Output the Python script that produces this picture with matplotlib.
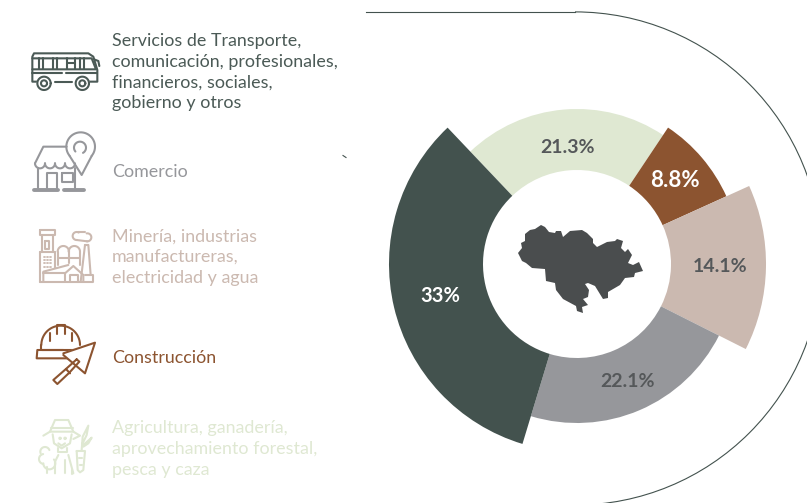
import numpy as np
import matplotlib
matplotlib.use('Agg')
import matplotlib.pyplot as plt
from matplotlib.patches import Wedge, Arc, Polygon

# chart data, clockwise from the top left of the ring
shares = [21.3, 8.8, 14.1, 22.1, 33]
share_labels = ['21.3%', '8.8%', '14.1%', '22.1%', '33%']
ring_colors = ['#dfe8d2', '#8c5430', '#cbb9b0', '#96979b', '#43524e']
label_colors = ['#55585a', '#ffffff', '#55585a', '#55585a', '#ffffff']
label_sizes = [14, 16, 14, 14, 14.5]
outer_radius = [155, 164, 189, 159, 188]
label_radius = [117, 129, 143, 128, 140]

categories = ['Servicios de Transporte,\ncomunicación, profesionales,\nfinancieros, sociales,\ngobierno y otros',
              'Comercio',
              'Minería, industrias\nmanufactureras,\nelectricidad y agua',
              'Construcción',
              'Agricultura, ganadería,\naprovechamiento forestal,\npesca y caza']
category_colors = ['#4b5a56', '#96979b', '#cbb9b0', '#8c5430', '#dfe8d2']
category_y = [72, 172, 257, 358, 449]

center = (577, 264)
hole = 94
start_angle = 133.5

# outline of the department, in pixels
region = [(518, 253), (522, 248), (521, 243), (525, 241), (525, 234), (530, 230), (535, 229),
          (541, 225), (545, 227), (549, 232), (555, 233), (556, 231), (561, 231), (563, 237),
          (570, 231), (582, 230), (587, 233), (593, 239), (593, 243), (597, 247), (607, 242),
          (615, 241), (617, 239), (623, 241), (621, 248), (625, 252), (628, 249), (632, 255),
          (628, 263), (633, 265), (639, 262), (643, 271), (635, 273), (634, 277), (625, 278),
          (620, 285), (608, 292), (608, 298), (603, 299), (595, 286), (588, 283), (585, 284),
          (589, 290), (588, 297), (583, 299), (588, 305), (582, 307), (583, 313), (577, 311),
          (576, 306), (563, 299), (556, 290), (555, 283), (546, 281), (545, 269), (532, 268),
          (526, 263), (522, 261)]


def stroke(ax, pts, ox, oy, color, lw=1.5):
    pts = np.array(pts, dtype=float)
    ax.plot(ox + pts[:, 0] / 3, oy + pts[:, 1] / 3, color=color, lw=lw,
            solid_capstyle='round', solid_joinstyle='round', zorder=3)


def ring(ax, x, y, r, ox, oy, color, lw=1.5, t1=0, t2=360, fill=False):
    t = np.radians(np.linspace(t1, t2, 40))
    px = ox + (x + r * np.cos(t)) / 3
    py = oy + (y - r * np.sin(t)) / 3
    if fill:
        ax.fill(px, py, color='white', zorder=3)
    ax.plot(px, py, color=color, lw=lw, solid_capstyle='round', zorder=3)


def draw_bus(ax, color):
    ox, oy = 20, 40
    for p in [[(50, 125), (37, 125), (37, 50), (42, 40), (205, 40), (220, 50), (232, 90), (232, 125), (205, 125)],
              [(105, 125), (155, 125)],
              [(37, 55), (215, 55), (228, 88), (37, 88)],
              [(37, 100), (125, 100)], [(137, 100), (232, 100)],
              [(57, 55), (57, 88)], [(70, 55), (70, 88)], [(100, 55), (100, 88)], [(112, 55), (112, 88)],
              [(140, 55), (140, 88)], [(165, 55), (165, 88)], [(180, 55), (180, 88)], [(192, 55), (192, 88)],
              [(140, 70), (165, 70)],
              [(222, 58), (235, 63), (238, 78)]]:
        stroke(ax, p, ox, oy, color)
    for cx in [72, 187]:
        ring(ax, cx, 130, 20, ox, oy, color, fill=True)
        ring(ax, cx, 130, 9, ox, oy, color)


def draw_shop(ax, color):
    ox, oy = 25, 125
    ring(ax, 167, 65, 43, ox, oy, color, t1=-40, t2=220)
    stroke(ax, [(134, 93), (170, 150), (200, 93)], ox, oy, color)
    ring(ax, 165, 68, 18, ox, oy, color, t1=-60, t2=220)
    for p in [[(125, 65), (55, 65), (30, 115)],
              [(40, 130), (40, 190)], [(150, 130), (150, 190)],
              [(65, 190), (65, 145), (95, 145), (95, 190)],
              [(110, 145), (145, 145), (145, 170), (110, 170), (110, 145)]]:
        stroke(ax, p, ox, oy, color)
    for cx in [45, 75, 105, 135]:
        ring(ax, cx, 115, 15, ox, oy, color, t1=180, t2=360)
    stroke(ax, [(28, 195), (100, 195)], ox, oy, color, lw=2.8)
    stroke(ax, [(118, 195), (178, 195)], ox, oy, color, lw=2.8)


def draw_factory(ax, color):
    ox, oy = 30, 220
    for p in [[(30, 30), (75, 30), (75, 45), (30, 45), (30, 30)],
              [(35, 45), (35, 95)], [(70, 45), (70, 95)],
              [(45, 62), (58, 62), (58, 88), (45, 88), (45, 62)],
              [(30, 97), (75, 97)], [(30, 97), (30, 185)], [(75, 97), (75, 145)],
              [(83, 135), (83, 95)], [(150, 135), (150, 95)], [(116, 90), (116, 130)],
              [(83, 115), (150, 115)],
              [(165, 75), (152, 185)], [(175, 75), (182, 165)], [(165, 75), (175, 75)],
              [(40, 185), (40, 155), (115, 135)],
              [(105, 185), (105, 160), (130, 138), (160, 165), (160, 185)],
              [(40, 158), (105, 158)],
              [(120, 185), (120, 165), (145, 165), (145, 185)],
              [(30, 185), (190, 185), (190, 165), (165, 165)]]:
        stroke(ax, p, ox, oy, color)
    ring(ax, 100, 95, 17, ox, oy, color, t1=0, t2=180)
    ring(ax, 133, 95, 17, ox, oy, color, t1=0, t2=180)
    ring(ax, 140, 48, 12, ox, oy, color, t1=60, t2=270)
    ring(ax, 172, 52, 12, ox, oy, color, t1=-100, t2=100)
    stroke(ax, [(140, 60), (172, 64)], ox, oy, color)
    stroke(ax, [(145, 36), (165, 36)], ox, oy, color)
    for x in [41, 50, 59]:
        for y in [110, 120, 130, 140]:
            stroke(ax, [(x, y), (x + 3, y)], ox, oy, color, lw=1.3)


def draw_tools(ax, color):
    ox, oy = 30, 320
    ring(ax, 92, 75, 58, ox, oy, color, t1=0, t2=180)
    for p in [[(34, 75), (34, 90)],
              [(80, 42), (80, 16), (105, 16), (105, 42)],
              [(60, 38), (60, 62)], [(125, 38), (125, 62)],
              [(35, 90), (145, 90)],
              [(100, 90), (22, 90), (20, 115), (115, 115)]]:
        stroke(ax, p, ox, oy, color)
    trowel = [(100, 100), (195, 68), (165, 160), (100, 105)]
    ax.fill(ox + np.array([p[0] for p in trowel]) / 3, oy + np.array([p[1] for p in trowel]) / 3, color='white', zorder=3)
    stroke(ax, trowel, ox, oy, color)
    for p in [[(140, 118), (148, 125), (118, 158), (82, 192), (70, 180), (110, 145), (140, 118)],
              [(108, 147), (120, 160)]]:
        stroke(ax, p, ox, oy, color)


def draw_farmer(ax, color):
    ox, oy = 30, 415
    for p in [[(60, 50), (75, 15), (115, 15), (130, 50)],
              [(40, 62), (60, 50), (130, 50), (150, 62), (130, 72)],
              [(68, 58), (72, 85), (95, 100), (120, 85), (125, 58)],
              [(85, 85), (95, 92), (105, 85)],
              [(62, 40), (128, 40)],
              [(85, 100), (85, 112), (110, 112), (110, 100)],
              [(50, 175), (50, 155)], [(75, 175), (75, 140), (85, 120)],
              [(115, 120), (130, 175)], [(105, 175), (105, 135)], [(125, 178), (125, 165)],
              [(140, 108), (165, 108), (160, 165), (150, 172), (143, 165), (140, 108)],
              [(155, 105), (158, 65), (175, 32), (170, 60), (158, 85)],
              [(160, 90), (185, 68), (175, 85), (160, 95)],
              [(148, 130), (155, 130)], [(150, 150), (157, 150)]]:
        stroke(ax, p, ox, oy, color)
    ring(ax, 45, 110, 14, ox, oy, color, t1=20, t2=200)
    ring(ax, 42, 132, 15, ox, oy, color, t1=100, t2=260)
    ring(ax, 58, 145, 18, ox, oy, color, t1=180, t2=400)
    ring(ax, 90, 70, 2, ox, oy, color)
    ring(ax, 105, 70, 2, ox, oy, color)


fig, ax = plt.subplots(figsize=(8.07, 5.03), dpi=100)
fig.subplots_adjust(0, 0, 1, 1)
ax.set_xlim(0, 807)
ax.set_ylim(503, 0)
ax.axis('off')

# thin curve behind the ring
ax.plot([366, 575], [11.9, 11.9], color='#43524e', lw=0.8)
ax.add_patch(Arc((575, 258.5), 493.2, 493.2, theta1=-90, theta2=90, color='#43524e', lw=0.8))
ax.plot([343, 346], [155.5, 157.5], color='#43524e', lw=0.8)

# ring
angle = start_angle
scale = 360 / sum(shares)
for value, text, col, tcol, r, lr, fs in zip(shares, share_labels, ring_colors, label_colors,
                                             outer_radius, label_radius, label_sizes):
    end = angle - value * scale
    # y axis runs downward, so the angles flip sign
    ax.add_patch(Wedge(center, r, -angle, -end, width=r - hole, facecolor=col, edgecolor='none', zorder=2))
    mid = np.radians((angle + end) / 2)
    ax.text(center[0] + lr * np.cos(mid), center[1] - lr * np.sin(mid), text, color=tcol,
            family='Lato', weight='bold', fontsize=fs, ha='center', va='center', zorder=4)
    angle = end

ax.add_patch(Polygon(region, closed=True, facecolor='#4a4d4e', edgecolor='none', zorder=3))

# legend text
for label, col, y in zip(categories, category_colors, category_y):
    ax.text(112, y, label, color=col, family='Lato', fontsize=12.9, linespacing=1.37,
            ha='left', va='center')

draw_bus(ax, category_colors[0])
draw_shop(ax, category_colors[1])
draw_factory(ax, category_colors[2])
draw_tools(ax, category_colors[3])
draw_farmer(ax, category_colors[4])

fig.savefig('out.png', dpi=100)
